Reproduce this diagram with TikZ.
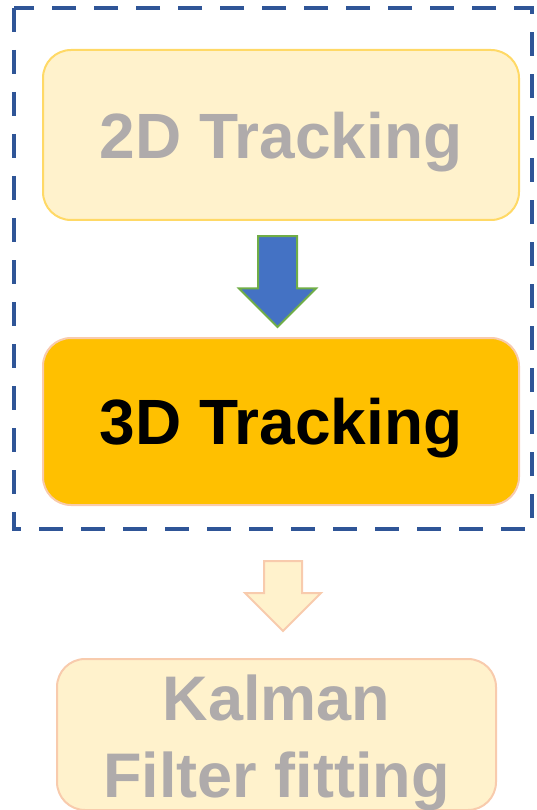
\documentclass[tikz,border=0pt]{standalone}
\usepackage{fontspec}
\setmainfont{Liberation Sans}
\usetikzlibrary{shapes.arrows}
\definecolor{boxfill}{HTML}{FFF2CC}
\definecolor{boxline}{HTML}{FFD966}
\definecolor{peachline}{HTML}{F8CBAD}
\definecolor{goldfill}{HTML}{FFC000}
\definecolor{greytext}{HTML}{AFABAB}
\definecolor{frameblue}{HTML}{2F5597}
\definecolor{arrowblue}{HTML}{4472C4}
\definecolor{arrowgreen}{HTML}{70AD47}

\begin{document}
\begin{tikzpicture}[x=1pt, y=1pt,
  stage/.style={draw, rounded corners=28pt, line width=2pt, inner sep=0pt, font=\fontsize{64}{77}\selectfont\bfseries},
  blockarrow/.style={single arrow, single arrow tip angle=90, single arrow head extend=19pt, rotate=-90, anchor=tail, inner xsep=0pt, inner ysep=18.5pt, line width=2pt}]
  \useasboundingbox (0,0) rectangle (537,-810);
  \draw[frameblue, line width=4.5pt, dash pattern=on 24pt off 18pt] (14,-8) rectangle (532,-529);
  \node[stage, fill=boxfill, draw=boxline, text=greytext, minimum width=476pt, minimum height=170pt, text depth=0pt] (track2d) at (281,-135) {2D Tracking};
  \node[stage, fill=goldfill, draw=peachline, text=black, minimum width=476pt, minimum height=167pt, text depth=0pt] (track3d) at (281,-421.5) {3D Tracking};
  \node[stage, fill=boxfill, draw=peachline, text=greytext, minimum width=439pt, minimum height=147pt, align=center, font=\fontsize{63}{77}\selectfont\bfseries, text height=138pt, text depth=13pt] (kalman) at (276.5,-734.5) {Kalman\\Filter fitting};
  \node[blockarrow, fill=arrowblue, draw=arrowgreen, minimum height=91pt, minimum width=75pt] (arr1) at (277.5,-235) {};
  \node[blockarrow, fill=boxfill, draw=peachline, minimum height=70pt, minimum width=73pt, inner ysep=18pt] (arr2) at (283,-560) {};
\end{tikzpicture}
\end{document}
